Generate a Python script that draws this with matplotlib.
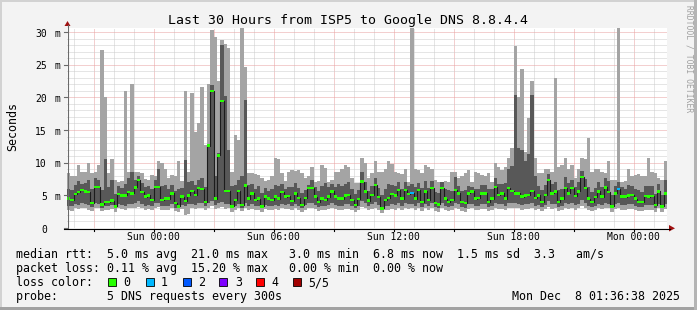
import numpy as np
import matplotlib
matplotlib.use("Agg")
import matplotlib.pyplot as plt
import matplotlib.transforms as mtransforms
from matplotlib.patches import Rectangle, Polygon
from matplotlib.lines import Line2D

# ---------------- data (milliseconds), one value per 10-minute step ----------------
t_start_h = -4.333      # hours relative to Sun 00:00 (Sat 19:40)
step_h = 1.0 / 6.0

med = [4.5, 4.3, 5.2, 5.5, 5.8, 5.6, 5.5, 3.8, 6.3, 6.3,
       3.6, 4.0, 4.0, 4.2, 3.3, 5.2, 5.0, 5.0, 5.5, 5.3,
       6.2, 7.3, 5.5, 4.8, 5.0, 4.3, 6.3, 6.3, 4.3, 4.5,
       4.5, 5.3, 3.8, 3.3, 4.8, 4.1, 5.0, 5.7, 5.1, 6.1,
       6.0, 4.0, 12.6, 21.0, 4.5, 11.1, 19.4, 5.7, 5.7, 3.3,
       4.3, 5.7, 3.5, 6.5, 4.5, 5.3, 4.3, 4.5, 3.3, 4.8,
       4.5, 4.3, 4.8, 4.5, 5.5, 4.8, 4.9, 4.1, 5.3, 4.6,
       3.5, 4.6, 6.1, 6.1, 4.8, 4.0, 4.5, 4.3, 4.8, 5.6,
       4.8, 4.5, 4.5, 5.0, 5.1, 4.3, 3.5, 4.4, 7.1, 5.6,
       4.2, 5.1, 6.6, 4.7, 3.0, 4.3, 4.6, 5.2, 5.0, 5.8,
       4.5, 5.8, 5.2, 5.4, 4.5, 5.8, 4.0, 5.6, 4.3, 6.1,
       3.8, 3.6, 6.1, 4.5, 4.0, 4.3, 5.8, 5.3, 4.0, 3.8,
       5.3, 5.6, 4.5, 4.6, 5.3, 5.3, 4.0, 4.5, 6.3, 5.1,
       5.3, 4.5, 6.1, 5.7, 5.3, 5.3, 4.8, 5.0, 5.1, 5.7,
       4.6, 5.0, 4.0, 5.1, 7.3, 5.3, 5.6, 4.0, 4.5, 6.1,
       5.3, 6.1, 4.9, 5.6, 7.8, 6.1, 4.5, 4.0, 4.7, 5.6,
       4.8, 6.2, 5.5, 3.3, 5.3, 6.0, 4.8, 4.8, 5.0, 5.1,
       4.5, 4.0, 4.0, 4.9, 4.8, 4.9, 3.5, 5.6, 3.3, 5.3]

mx = [8.4, 7.9, 8.0, 9.6, 8.6, 8.6, 9.9, 8.4, 8.5, 9.6,
      27.3, 20.1, 8.4, 10.6, 7.3, 7.1, 7.2, 20.9, 8.6, 22.1,
      8.6, 8.5, 8.4, 7.5, 7.3, 8.1, 8.0, 10.2, 9.9, 9.1,
      7.6, 8.1, 7.9, 10.2, 7.2, 20.9, 8.6, 20.6, 14.7, 16.0,
      21.6, 12.7, 22.0, 30.3, 29.3, 22.5, 28.8, 28.2, 27.5, 8.6,
      14.2, 13.5, 30.6, 24.7, 8.4, 8.4, 8.3, 8.1, 7.6, 7.2,
      7.3, 8.0, 10.7, 10.5, 8.4, 7.2, 8.6, 8.9, 8.8, 8.9,
      8.4, 7.6, 8.0, 9.4, 7.1, 7.2, 9.6, 9.2, 7.1, 7.3,
      8.6, 8.5, 9.1, 9.6, 9.4, 7.6, 6.9, 6.9, 10.7, 9.9,
      7.6, 8.4, 10.2, 8.6, 8.5, 9.1, 10.2, 9.8, 8.6, 8.4,
      8.2, 9.1, 7.1, 30.8, 9.1, 8.9, 8.4, 9.6, 9.4, 9.1,
      7.4, 7.0, 7.1, 7.2, 7.0, 8.6, 8.6, 7.6, 7.9, 8.4,
      8.9, 7.1, 8.5, 8.4, 8.1, 8.0, 8.4, 7.1, 9.9, 9.4,
      8.9, 9.4, 10.7, 12.2, 27.9, 20.0, 24.4, 11.7, 16.8, 22.5,
      10.7, 8.4, 8.4, 9.1, 9.1, 8.6, 22.9, 9.4, 9.6, 10.7,
      9.1, 9.6, 7.6, 9.1, 10.7, 10.5, 13.7, 8.6, 9.1, 9.0,
      8.6, 8.4, 10.2, 7.3, 7.4, 30.8, 7.1, 7.2, 9.1, 7.9,
      8.1, 8.2, 7.9, 7.9, 10.7, 8.6, 8.4, 7.6, 7.4, 10.2]

p4 = [6.0, 5.8, 6.6, 7.2, 6.8, 6.9, 7.4, 5.9, 7.6, 7.3,
      5.8, 10.6, 6.2, 7.4, 5.2, 6.4, 6.1, 6.8, 7.6, 8.6,
      7.4, 8.0, 6.9, 6.2, 6.5, 6.0, 7.4, 9.1, 6.4, 6.6,
      5.9, 6.6, 5.6, 5.9, 6.1, 10.4, 7.1, 7.2, 6.6, 7.4,
      7.6, 6.2, 12.8, 21.9, 8.0, 11.5, 28.0, 20.2, 12.0, 6.4,
      6.6, 7.3, 8.0, 19.6, 6.6, 6.8, 6.0, 6.5, 5.4, 6.1,
      5.7, 5.9, 6.6, 6.5, 6.8, 6.0, 6.3, 6.2, 6.9, 6.1,
      5.3, 5.8, 6.6, 7.4, 6.2, 5.6, 6.4, 6.9, 6.3, 6.8,
      6.3, 6.8, 6.5, 6.7, 7.0, 5.9, 5.2, 5.8, 8.6, 7.0,
      5.6, 6.4, 7.6, 6.1, 5.0, 6.0, 6.7, 6.6, 6.4, 7.0,
      5.9, 7.1, 6.4, 6.8, 6.2, 6.9, 6.1, 7.2, 6.1, 7.2,
      5.5, 5.4, 7.0, 6.0, 5.8, 5.7, 7.8, 6.5, 5.6, 5.8,
      6.5, 6.3, 6.0, 6.0, 6.6, 6.6, 5.9, 6.0, 7.6, 6.8,
      6.8, 6.9, 9.1, 9.5, 20.4, 12.2, 11.9, 10.2, 11.4, 20.4,
      8.0, 6.4, 5.8, 6.6, 8.2, 6.7, 7.0, 5.8, 6.0, 7.8,
      6.9, 7.4, 6.3, 7.0, 8.8, 7.5, 6.2, 5.5, 6.1, 7.0,
      6.2, 7.6, 7.2, 5.0, 6.5, 7.0, 6.2, 6.0, 6.6, 6.4,
      6.0, 5.8, 5.5, 6.4, 6.5, 6.5, 5.2, 6.8, 5.0, 7.4]

p2 = [3.4, 3.3, 3.6, 3.5, 3.8, 3.7, 3.5, 3.2, 3.9, 3.7,
      3.1, 3.4, 3.3, 3.5, 3.0, 3.6, 3.5, 3.4, 3.7, 3.6,
      3.9, 4.2, 3.7, 3.4, 3.5, 3.3, 3.8, 3.9, 3.3, 3.4,
      3.4, 3.6, 3.1, 3.0, 3.5, 3.3, 3.6, 3.7, 3.5, 3.9,
      3.8, 3.3, 3.9, 4.2, 3.5, 3.8, 4.0, 3.6, 3.7, 3.0,
      3.3, 3.7, 3.1, 3.9, 3.4, 3.6, 3.3, 3.4, 3.0, 3.5,
      3.4, 3.3, 3.5, 3.4, 3.7, 3.5, 3.6, 3.3, 3.7, 3.4,
      3.1, 3.5, 3.9, 3.8, 3.5, 3.2, 3.4, 3.3, 3.5, 3.8,
      3.5, 3.4, 3.3, 3.6, 3.6, 3.3, 3.1, 3.3, 4.2, 3.8,
      3.3, 3.6, 4.0, 3.5, 2.8, 3.3, 3.4, 3.6, 3.5, 3.8,
      3.4, 3.8, 3.6, 3.7, 3.4, 3.8, 3.2, 3.7, 3.3, 3.9,
      3.2, 3.1, 3.9, 3.4, 3.2, 3.3, 3.8, 3.6, 3.2, 3.1,
      3.6, 3.7, 3.4, 3.4, 3.6, 3.6, 3.2, 3.4, 3.9, 3.6,
      3.6, 3.4, 3.9, 3.8, 3.8, 3.7, 3.5, 3.6, 3.6, 3.8,
      3.4, 3.5, 3.2, 3.5, 4.1, 3.6, 3.7, 3.2, 3.4, 3.8,
      3.6, 3.9, 3.5, 3.7, 4.3, 3.9, 3.4, 3.2, 3.4, 3.7,
      3.5, 3.9, 3.7, 3.0, 3.6, 3.8, 3.5, 3.5, 3.6, 3.6,
      3.4, 3.2, 3.2, 3.5, 3.5, 3.5, 3.1, 3.7, 3.0, 3.6]

mn = [2.7, 2.6, 3.0, 2.9, 3.1, 3.0, 2.8, 2.6, 3.1, 3.0,
      2.6, 2.8, 2.7, 2.9, 2.5, 3.0, 2.9, 2.8, 3.0, 3.0,
      3.1, 3.2, 3.0, 2.8, 2.9, 2.7, 3.1, 3.2, 2.7, 2.8,
      2.8, 3.0, 2.6, 2.5, 2.9, 2.0, 2.2, 3.0, 2.9, 3.1,
      3.0, 2.7, 3.1, 3.3, 2.9, 3.1, 3.2, 2.9, 3.0, 2.5,
      2.7, 3.0, 2.6, 3.1, 2.8, 2.9, 2.7, 2.8, 2.5, 2.9,
      2.8, 2.7, 2.9, 2.8, 3.0, 2.9, 2.9, 2.7, 3.0, 2.8,
      2.5, 2.8, 3.1, 3.0, 2.9, 2.6, 2.8, 2.7, 2.9, 3.0,
      2.9, 2.8, 2.7, 2.9, 2.9, 2.7, 2.5, 2.7, 3.2, 3.0,
      2.7, 2.9, 3.1, 2.8, 2.3, 2.7, 2.8, 2.9, 2.8, 3.0,
      2.8, 3.0, 2.9, 3.0, 2.8, 3.0, 2.6, 3.0, 2.7, 3.1,
      2.6, 2.5, 3.1, 2.8, 2.6, 2.7, 3.0, 2.9, 2.6, 2.5,
      2.9, 3.0, 2.8, 2.8, 2.9, 2.9, 2.6, 2.8, 3.1, 2.9,
      2.9, 2.8, 3.1, 3.0, 3.0, 3.0, 2.8, 2.9, 2.9, 3.0,
      2.8, 2.9, 2.6, 2.9, 3.2, 2.9, 3.0, 2.6, 2.8, 3.0,
      2.9, 3.1, 2.8, 3.0, 3.3, 3.1, 2.8, 2.6, 2.8, 3.0,
      2.9, 3.1, 3.0, 2.5, 2.9, 3.0, 2.8, 2.8, 2.9, 2.9,
      2.8, 2.6, 2.6, 2.8, 2.8, 2.8, 2.5, 3.0, 2.4, 2.9]

loss_steps = [103, 165]
loss_counts = [1, 1]

x_label_pos = [0, 6, 12, 18, 24]
x_labels = ["Sun 00:00", "Sun 06:00", "Sun 12:00", "Sun 18:00", "Mon 00:00"]
y_major = [0, 5, 10, 15, 20, 25, 30]
y_labels = ["0", "5", "10", "15", "20", "25", "30"]

loss_colors = ["#26ff00", "#00b8ff", "#0059ff", "#7e00ff", "#ff0000", "#a10000"]
loss_names = ["0", "1", "2", "3", "4", "5/5"]

title = "Last 30 Hours from ISP5 to Google DNS 8.8.4.4"
legend_lines = [
    "median rtt:  5.0 ms avg  21.0 ms max   3.0 ms min  6.8 ms now  1.5 ms sd  3.3   am/s",
    "packet loss: 0.11 % avg  15.20 % max   0.00 % min  0.00 % now",
    "loss color:",
    "probe:       5 DNS requests every 300s",
]
stamp = "Mon Dec  8 01:36:38 2025"

# ---------------- figure ----------------
W, H = 697, 310
MONO = "DejaVu Sans Mono"
plt.rcParams["font.family"] = MONO
fig = plt.figure(figsize=(W / 100, H / 100), dpi=100, facecolor="#f3f3f3")


def fx(px):
    return px / W


def fy(py):
    return 1 - py / H


# frame
fig.add_artist(Rectangle((0, fy(2)), 1, 2 / H, transform=fig.transFigure, color="#d2d2d2", lw=0))
fig.add_artist(Rectangle((0, 0), 2 / W, 1, transform=fig.transFigure, color="#d2d2d2", lw=0))
fig.add_artist(Rectangle((0, 0), 1, 3 / H, transform=fig.transFigure, color="#a2a2a2", lw=0))
fig.add_artist(Rectangle((fx(694), 0), 3 / W, 1, transform=fig.transFigure, color="#b4b4b4", lw=0))

ax = fig.add_axes([fx(67), fy(228), 600 / W, 200 / H])
ax.set_facecolor("white")
ax.set_xlim(-4.335, 25.665)
ax.set_ylim(0, 30.61)
for s in ax.spines.values():
    s.set_visible(False)
ax.set_xticks([])
ax.set_yticks([])

# grid
for h in np.arange(-4, 26):
    ax.axvline(h, color="#e8a0a0" if h % 3 == 0 else "#cccccc", lw=0.72,
               ls=(0, (1, 1)), zorder=1)
for v in np.arange(1, 31):
    ax.axhline(v, color="#e8a0a0" if v % 5 == 0 else "#cccccc", lw=0.72,
               ls=(0, (1, 1)), zorder=1)

# smoke
n = len(med)
edges = t_start_h + np.arange(n + 1) * step_h


def ext(a):
    a = np.asarray(a, float)
    return np.append(a, a[-1])


ax.fill_between(edges, ext(mn), ext(mx), step="post", color="#a4a4a4", lw=0, zorder=2)
ax.fill_between(edges, ext(p2), ext(p4), step="post", color="#585858", lw=0, zorder=3)
ax.step(edges, ext(med), where="post", color="#1c1c1c", lw=0.8, zorder=4)

cols = [loss_colors[0]] * n
for s_, c_ in zip(loss_steps, loss_counts):
    cols[s_] = loss_colors[c_]
ax.bar(edges[:-1], 0.36, width=step_h, bottom=np.asarray(med) - 0.18, align="edge",
       color=cols, lw=0, zorder=5)

# axes lines and arrows
fig.add_artist(Line2D([fx(67.5), fx(67.5)], [fy(228), fy(25)], transform=fig.transFigure,
                      color="#6a6a6a", lw=0.8))
fig.add_artist(Line2D([fx(64), fx(670)], [fy(228.5), fy(228.5)], transform=fig.transFigure,
                      color="#000000", lw=0.8))
fig.add_artist(Polygon([(fx(64.5), fy(26)), (fx(70.5), fy(26)), (fx(67.5), fy(21))],
                       closed=True, transform=fig.transFigure, color="#a01010", lw=0))
fig.add_artist(Polygon([(fx(669), fy(225)), (fx(669), fy(231.5)), (fx(675), fy(228.3))],
                       closed=True, transform=fig.transFigure, color="#a01010", lw=0))

# y tick labels
ytr = mtransforms.blended_transform_factory(fig.transFigure, ax.transData) + \
    mtransforms.ScaledTranslation(0, -4.6 / 100, fig.dpi_scale_trans)
for v, lab in zip(y_major, y_labels):
    fig.text(fx(47), v, lab, transform=ytr, ha="right", va="baseline", fontsize=7, color="black")
    if v != 0:
        fig.text(fx(54.5), v, "m", transform=ytr, ha="left", va="baseline", fontsize=7, color="black")
ytk = mtransforms.blended_transform_factory(fig.transFigure, ax.transData)
for v in y_major:
    fig.add_artist(Line2D([fx(64), fx(67)], [v, v], transform=ytk, color="#6a6a6a", lw=0.8))

# x tick labels
xtr = mtransforms.blended_transform_factory(ax.transData, fig.transFigure)
for p, lab in zip(x_label_pos, x_labels):
    fig.text(p, fy(240.3), lab, transform=xtr, ha="center", va="baseline", fontsize=7, color="black")
for h in np.arange(-3, 26, 3):
    fig.add_artist(Line2D([h, h], [fy(228.5), fy(231)], transform=xtr, color="#000000", lw=0.8))

# texts
fig.text(fx(347.5), fy(24), title, ha="center", va="baseline", fontsize=9.5, color="black")
fig.text(fx(13), fy(126.5), "Seconds", rotation=90, ha="center", va="center",
         fontsize=8.4, color="black")
fig.text(fx(688.5), fy(58.5), "RRDTOOL / TOBI OETIKER", rotation=270, ha="center", va="center",
         fontsize=5.8, color="#a0a0a0")

base_y = [258.3, 272.3, 286.3, 300.3]
for yb, line in zip(base_y, legend_lines):
    fig.text(fx(16), fy(yb), line, ha="left", va="baseline", fontsize=8.37, color="black")
fig.text(fx(512.5), fy(300.3), stamp, ha="left", va="baseline", fontsize=8.37, color="black")

box_x = [108, 145.7, 182.7, 219, 256, 293]
lab_x = [123, 161, 198, 235, 271.7, 308]
for bx, lx, c, nm in zip(box_x, lab_x, loss_colors, loss_names):
    fig.add_artist(Rectangle((fx(bx), fy(286)), 8 / W, 8 / H, transform=fig.transFigure,
                             facecolor=c, edgecolor="black", lw=0.6))
    fig.text(fx(lx), fy(286.3), nm, ha="left", va="baseline", fontsize=8.37, color="black")

fig.savefig("out.png", dpi=100, facecolor=fig.get_facecolor())
